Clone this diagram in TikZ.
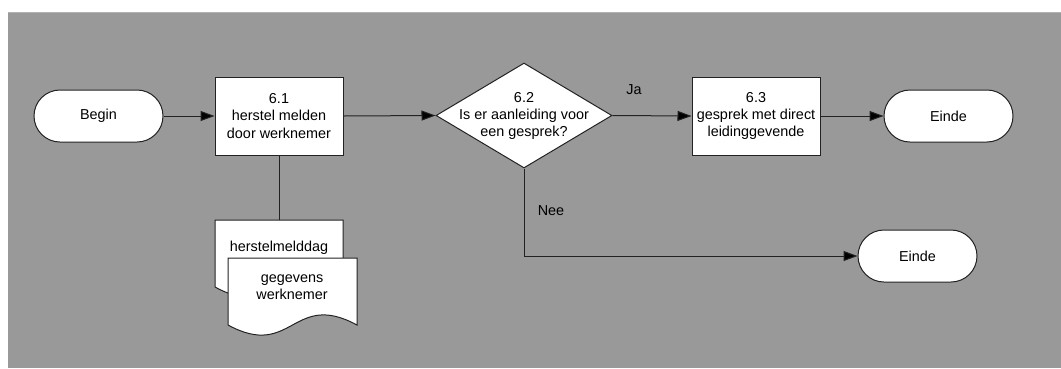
\documentclass[tikz,border=0pt]{standalone}
\usepackage{fontspec}
\setmainfont{Liberation Sans}
\usetikzlibrary{shapes.geometric,arrows.meta}
\definecolor{bggray}{HTML}{999999}
\definecolor{linec}{HTML}{222222}
\begin{document}
\begin{tikzpicture}[x=1pt,y=-1pt,
  every node/.style={font=\fontsize{14.4}{17.2}\selectfont, text=black},
  term/.style={draw=linec, line width=1pt, fill=white, rectangle, rounded corners=26pt, minimum height=52pt, inner sep=0pt},
  proc/.style={draw=linec, line width=1pt, fill=white, rectangle, minimum width=128pt, minimum height=78pt, inner sep=0pt, align=center},
  dec/.style={draw=linec, line width=1pt, fill=white, diamond, minimum width=176pt, minimum height=105pt, inner sep=0pt},
  docshape/.style={draw=linec, line width=1pt, fill=white},
  conn/.style={draw=linec, line width=1pt},
  arr/.style={conn, -{Triangle[length=14pt,width=10pt,fill=black]}},
  lbl/.style={inner sep=0pt, align=center}
]
\useasboundingbox (0,0) rectangle (1061,368);
\fill[white] (0,0) rectangle (1061,368);
\fill[bggray] (8,12) rectangle (1061,368);
\draw[color=gray!60, line width=0.8pt] (8,12.4) -- (1061,12.4);

% nodes
\node[term, minimum width=129pt] (begin) at (98.5,116) {Begin};
\node[proc] (p61) at (279,116) {6.1\\herstel melden\\door werknemer};
\node[dec] (d62) at (524,115.5) {};
\node[lbl] (d62t) at (524,116) {6.2\\Is er aanleiding voor\\een gesprek?};
\node[proc] (p63) at (756,116) {6.3\\gesprek met direct\\leidinggevende};
\node[term, minimum width=129pt] (e1) at (948.5,116) {Einde};
\node[term, minimum width=119pt] (e2) at (917.5,256) {Einde};

% documents
\coordinate (doc1top) at (279,220);
\path[docshape] (215,220) -- (343,220) -- (343,287) .. controls (279,252) and (279,322) .. (215,287) -- cycle;
\node[lbl] (doc1t) at (279,248) {herstelmelddag};
\path[docshape] (228,258) -- (357,258) -- (357,325) .. controls (292.5,290) and (292.5,360) .. (228,325) -- cycle;
\node[lbl] (doc2t) at (292,287) {gegevens\\werknemer};

% connectors
\draw[arr] (begin.east) -- (p61.west);
\draw[arr] (p61.east) -- (d62.west);
\draw[arr] (d62.east) -- (p63.west);
\draw[arr] (p63.east) -- (e1.west);
\draw[arr] (d62.south) |- (e2.west);
\draw[conn] (p61.south) -- (doc1top);

% labels
\node[lbl] (ja) at (634,90) {Ja};
\node[lbl] (nee) at (551,211) {Nee};
\end{tikzpicture}
\end{document}
